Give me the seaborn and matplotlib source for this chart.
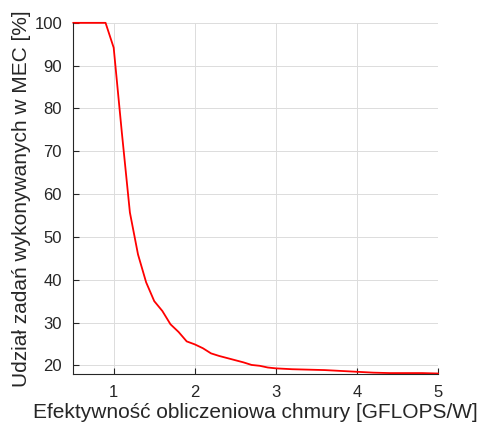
import numpy as np
import pandas as pd
import seaborn as sns
from matplotlib import pyplot as plt

# efficiency [GFLOPS/W] and share of tasks executed in MEC [%]
efficiency = [0.5, 0.6, 0.7, 0.8, 0.9, 1.0, 1.1, 1.2, 1.3, 1.4, 1.5, 1.6, 1.7, 1.8,
              1.9, 2.0, 2.1, 2.2, 2.3, 2.4, 2.5, 2.6, 2.7, 2.8, 2.9, 3.0, 3.2, 3.4,
              3.6, 3.8, 4.0, 4.2, 4.4, 4.6, 4.8, 5.0]
mec_share = [100, 100, 100, 100, 100, 94.2, 74.5, 55.7, 45.9, 39.4, 35.0, 32.7, 29.6, 27.8,
             25.6, 24.9, 24.0, 22.8, 22.2, 21.7, 21.2, 20.7, 20.1, 19.9, 19.5, 19.3, 19.1, 19.0,
             18.9, 18.7, 18.5, 18.3, 18.2, 18.2, 18.2, 18.1]

df = pd.DataFrame({"eff": efficiency, "share": mec_share})

sns.set_style("white")
plt.rcParams['font.family'] = ['Liberation Sans', 'DejaVu Sans']

fig = plt.figure(figsize=(4.81, 4.23), dpi=100)
ax = fig.add_axes([0.152, 0.116, 0.759, 0.830])

sns.lineplot(data=df, x="eff", y="share", color="red", linewidth=1.3, ax=ax)
for line in ax.lines:
    line.set_clip_on(False)

ax.set_xlim(0.5, 5)
ax.set_ylim(18, 100)
ax.set_xticks([1, 2, 3, 4, 5])
ax.set_yticks(range(20, 101, 10))
ax.grid(True, color="#dcdcdc", linewidth=0.7)
ax.set_axisbelow(True)

for side in ["top", "right"]:
    ax.spines[side].set_visible(False)
for side in ["left", "bottom"]:
    ax.spines[side].set_color("#262626")
    ax.spines[side].set_linewidth(0.8)

ax.tick_params(direction="in", length=4, width=0.8, color="#262626",
               labelsize=12, labelcolor="#262626", pad=8,
               bottom=True, left=True)

ax.set_xlabel("Efektywność obliczeniowa chmury [GFLOPS/W]", fontsize=15, color="#262626", labelpad=2)
ax.set_ylabel("Udział zadań wykonywanych w MEC [%]", fontsize=15, color="#262626", labelpad=2)

fig.savefig("out.png", dpi=100)
